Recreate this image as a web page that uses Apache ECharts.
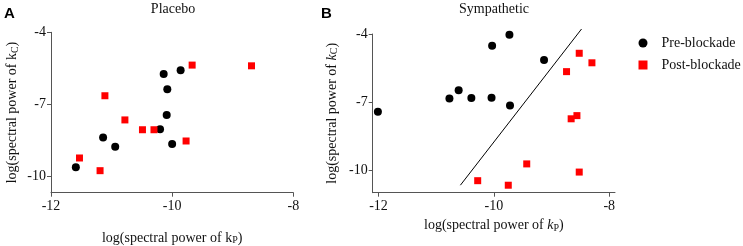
<!DOCTYPE html>
<html>
<head>
<meta charset="utf-8">
<script src="https://cdn.jsdelivr.net/npm/echarts@6/dist/echarts.min.js"></script>
<style>
    html, body { margin: 0; padding: 0; background: #fff; }
    #chart { width: 743px; height: 246px; }
</style>
</head>
<body>
<div id="chart"></div>
<script>
/*
|--------------------------------------------------------------------------
| Data
|--------------------------------------------------------------------------
*/

const placeboPre = [
    [-11.59, -9.64], [-11.14, -8.39], [-10.94, -8.78], [-10.14, -5.74], [-10.08, -6.38],
    [-10.09, -7.45], [-10.20, -8.05], [-10.00, -8.67], [-9.86, -5.59],
];
const placeboPost = [
    [-11.53, -9.25], [-11.19, -9.78], [-11.11, -6.65], [-10.78, -7.66], [-10.49, -8.07],
    [-10.30, -8.07], [-9.77, -8.54], [-9.67, -5.37], [-8.69, -5.40],
];
const sympatheticPre = [
    [-12.01, -7.43], [-10.77, -6.85], [-10.61, -6.48], [-10.39, -6.82], [-10.04, -6.81],
    [-9.72, -7.15], [-10.03, -4.52], [-9.73, -4.03], [-9.13, -5.15],
];
const sympatheticPost = [
    [-10.28, -10.47], [-9.75, -10.67], [-9.43, -9.73], [-8.52, -10.09], [-8.66, -7.74],
    [-8.56, -7.60], [-8.74, -5.66], [-8.52, -4.85], [-8.30, -5.27],
];
const separatorLine = [[-10.58, -10.67], [-8.48, -3.78]];

const xTicks = [-12, -10, -8];
const yTicks = [-10, -7, -4];

/*
|--------------------------------------------------------------------------
| Shared styles
|--------------------------------------------------------------------------
*/

const serif = 'Liberation Serif';
const axisColor = '#555';

const labelStyle = { fontFamily: serif, fontSize: 14, color: '#111' };

function nameRich(italicK) {
    return {
        k: { ...labelStyle, fontStyle: italicK ? 'italic' : 'normal' },
        sub: { fontFamily: serif, fontSize: 10, color: '#111', padding: [5, 0, 0, 0] },
    };
}

function xAxis(gridIndex, min, max, nameGap, italicK) {
    return {
        type: 'value', gridIndex, min, max,
        axisLine: { show: true, lineStyle: { color: axisColor, width: 1 } },
        axisTick: { show: true, length: 4, customValues: xTicks, lineStyle: { color: axisColor } },
        axisLabel: { ...labelStyle, margin: 7, customValues: xTicks },
        splitLine: { show: false },
        name: 'log(spectral power of {k|k}{sub|P})',
        nameLocation: 'middle',
        nameGap,
        nameTextStyle: { ...labelStyle, rich: nameRich(italicK) },
    };
}

function yAxis(gridIndex, min, max, nameGap, italicK) {
    return {
        type: 'value', gridIndex, min, max,
        axisLine: { show: true, lineStyle: { color: axisColor, width: 1 } },
        axisTick: { show: true, length: 4, customValues: yTicks, lineStyle: { color: axisColor } },
        axisLabel: { ...labelStyle, margin: 5, customValues: yTicks },
        splitLine: { show: false },
        name: 'log(spectral power of {k|k}{sub|C})',
        nameLocation: 'middle',
        nameGap,
        nameTextStyle: { ...labelStyle, rich: nameRich(italicK) },
    };
}

function scatter(name, data, idx, symbol, color, size) {
    return {
        type: 'scatter', name, data, xAxisIndex: idx, yAxisIndex: idx,
        symbol, symbolSize: size, itemStyle: { color, opacity: 1 }, z: 3,
    };
}

/*
|--------------------------------------------------------------------------
| Chart
|--------------------------------------------------------------------------
*/

const chart = echarts.init(document.getElementById('chart'));

const panelLetter = { fontFamily: 'Liberation Sans', fontSize: 15, fontWeight: 'bold', color: '#000' };
const panelTitle = { fontFamily: serif, fontSize: 14, fontWeight: 'normal', color: '#111' };

chart.setOption({
    animation: false,
    backgroundColor: '#fff',
    title: [
        { text: 'A', left: 4, top: 6, padding: 0, textStyle: panelLetter },
        { text: 'Placebo', left: 173, top: 2, padding: 0, textAlign: 'center', textStyle: panelTitle },
        { text: 'B', left: 321, top: 6, padding: 0, textStyle: panelLetter },
        { text: 'Sympathetic', left: 494, top: 2, padding: 0, textAlign: 'center', textStyle: panelTitle },
    ],
    legend: {
        orient: 'vertical',
        left: 638.5, top: 36,
        padding: 0,
        itemGap: 8, itemWidth: 9, itemHeight: 9,
        textStyle: { ...labelStyle, padding: [0, 0, 0, 9] },
        data: [
            { name: 'Pre-blockade', icon: 'circle', itemStyle: { color: '#000' } },
            { name: 'Post-blockade', icon: 'rect', itemStyle: { color: '#ff0000' } },
        ],
    },
    // v6 shrinks grids to keep names inside; keep the measured boxes instead
    grid: [
        { left: 51, top: 32.3, width: 242.3, height: 160.4, outerBoundsMode: 'none' },
        { left: 372.7, top: 34, width: 242.3, height: 158.7, outerBoundsMode: 'none' },
    ],
    xAxis: [
        xAxis(0, -12, -8, 38, false),
        xAxis(1, -12.1, -7.9, 24, true),
    ],
    yAxis: [
        yAxis(0, -10.7, -4, 31, false),
        yAxis(1, -11, -4, 33, true),
    ],
    series: [
        scatter('Pre-blockade', placeboPre, 0, 'circle', '#000', 8),
        scatter('Post-blockade', placeboPost, 0, 'rect', '#ff0000', 7),
        scatter('Pre-blockade', sympatheticPre, 1, 'circle', '#000', 8),
        scatter('Post-blockade', sympatheticPost, 1, 'rect', '#ff0000', 7),
        {
            type: 'line', data: separatorLine, xAxisIndex: 1, yAxisIndex: 1,
            symbol: 'none', clip: false, silent: true,
            lineStyle: { color: '#000', width: 1 },
        },
    ],
});
</script>
</body>
</html>
